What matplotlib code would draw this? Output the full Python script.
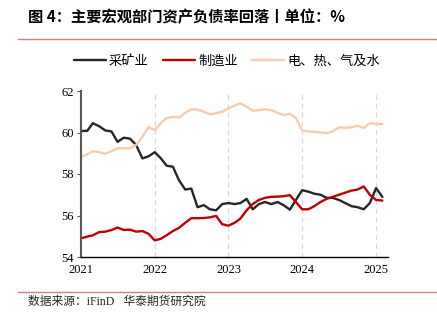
import matplotlib
matplotlib.use("Agg")
import matplotlib.pyplot as plt
import pandas as pd
import numpy as np

plt.rcParams['font.family'] = ['Noto Sans CJK SC', 'DejaVu Sans']

months = pd.date_range('2021-01-01', periods=50, freq='MS')

mining = [60.07, 60.08, 60.45, 60.30, 60.10, 60.05, 59.55, 59.75, 59.70, 59.40,
          58.75, 58.85, 59.05, 58.75, 58.40, 58.35, 57.70, 57.25, 57.30, 56.40,
          56.50, 56.30, 56.25, 56.55, 56.60, 56.55, 56.60, 56.80, 56.30, 56.55,
          56.65, 56.55, 56.65, 56.50, 56.28, 56.75, 57.22, 57.15, 57.05, 57.00,
          56.85, 56.85, 56.75, 56.60, 56.45, 56.40, 56.30, 56.60, 57.32, 56.90]

manufacturing = [54.90, 54.98, 55.05, 55.20, 55.22, 55.30, 55.42, 55.30, 55.32, 55.22,
                 55.25, 55.12, 54.80, 54.88, 55.05, 55.25, 55.40, 55.65, 55.87, 55.87,
                 55.88, 55.91, 55.98, 55.58, 55.51, 55.65, 55.85, 56.25, 56.55, 56.75,
                 56.85, 56.90, 56.91, 56.93, 56.98, 56.65, 56.30, 56.30, 56.45, 56.65,
                 56.80, 56.90, 57.00, 57.10, 57.20, 57.25, 57.40, 57.00, 56.75, 56.72]

utilities = [58.83, 58.95, 59.10, 59.05, 58.97, 59.10, 59.24, 59.24, 59.24, 59.40,
             59.80, 60.25, 60.12, 60.45, 60.70, 60.75, 60.72, 60.95, 61.12, 61.10,
             61.00, 60.88, 60.93, 61.00, 61.17, 61.30, 61.40, 61.25, 61.05, 61.08,
             61.12, 61.07, 60.95, 60.84, 60.90, 60.70, 60.10, 60.05, 60.03, 60.00,
             59.97, 60.05, 60.25, 60.23, 60.25, 60.32, 60.22, 60.45, 60.41, 60.41]

series_names = ['采矿业', '制造业', '电、热、气及水']
series_colors = ['#262626', '#C00000', '#F8CBAD']
year_ticks = ['2021', '2022', '2023', '2024', '2025']
y_ticks = [54, 56, 58, 60, 62]

W, H = 437, 326
fig = plt.figure(figsize=(W / 100, H / 100), dpi=100)

ax = fig.add_axes([81 / W, 1 - 257 / H, (388 - 81) / W, (257 - 91) / H])

for vals, name, col in zip([mining, manufacturing, utilities], series_names, series_colors):
    ax.plot(months, vals, color=col, lw=1.7, label=name, solid_joinstyle='round',
            solid_capstyle='round')

ax.set_xlim(pd.Timestamp('2021-01-01'), pd.Timestamp('2025-03-01'))
ax.set_ylim(54, 62)
ax.set_yticks(y_ticks)
ax.set_yticklabels([str(v) for v in y_ticks], family='Liberation Serif', fontsize=9)
xt = [pd.Timestamp(y + '-01-01') for y in year_ticks]
ax.set_xticks(xt)
ax.set_xticklabels(year_ticks, family='Liberation Serif', fontsize=9)
ax.tick_params(axis='x', length=0, pad=5)
ax.tick_params(axis='y', length=3, width=0.8, color='#595959', pad=2)

for t in xt[1:]:
    ax.axvline(t, color='#D9D9D9', lw=0.9, ls=(0, (4, 3)), zorder=0)

for s in ['top', 'right']:
    ax.spines[s].set_visible(False)
ax.spines['left'].set_color('#595959')
ax.spines['left'].set_linewidth(1.5)
ax.spines['bottom'].set_color('#000000')
ax.spines['bottom'].set_linewidth(1.0)

fig.legend(loc='center', bbox_to_anchor=(227 / W, 1 - 61 / H), ncol=3, frameon=False,
           fontsize=9.5, handlelength=2.4, handletextpad=0.25, columnspacing=1.1,
           borderaxespad=0, borderpad=0)

fig.text(28 / W, 1 - 17 / H, '图 4：主要宏观部门资产负债率回落丨单位：%', fontsize=11,
         fontweight='bold', va='center', ha='left')
fig.add_artist(plt.Line2D([18 / W, 1.0], [1 - 38.5 / H] * 2, color='#D08080', lw=1.0))
fig.add_artist(plt.Line2D([18 / W, 1.0], [1 - 291.5 / H] * 2, color='#D08080', lw=1.0))
fig.text(28 / W, 1 - 302 / H, '数据来源：iFinD   华泰期货研究院', fontsize=8.5,
         va='center', ha='left', color='#262626',
         family=['Liberation Serif', 'Noto Sans CJK SC'])

fig.savefig('out.png', dpi=100)
